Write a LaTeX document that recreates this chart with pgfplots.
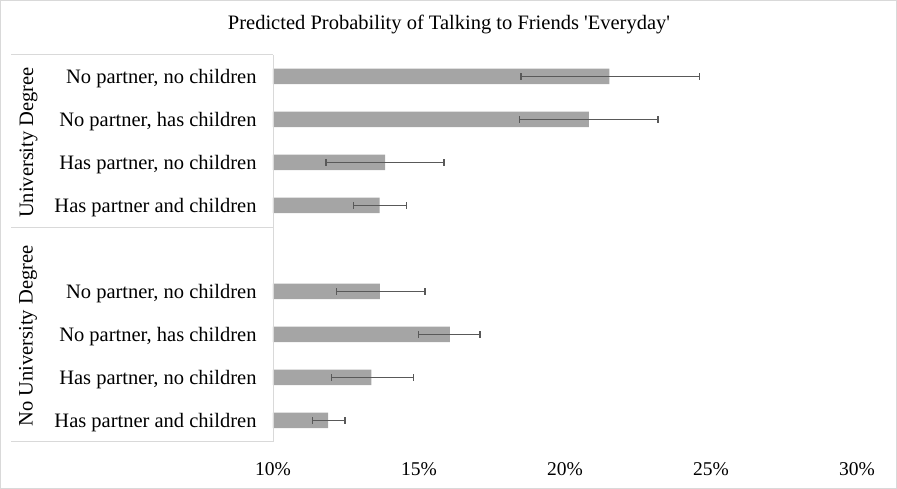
\documentclass[border=0pt]{standalone}
\usepackage{pgfplots}
\pgfplotsset{compat=1.18}
\usepackage{fontspec}
\setmainfont{Liberation Serif}
\definecolor{barfill}{HTML}{A5A5A5}
\definecolor{errcol}{HTML}{595959}
\definecolor{linecol}{HTML}{D9D9D9}
\newcommand{\lab}{\fontsize{20.5}{24}\selectfont}
\begin{document}
\begin{tikzpicture}[x=1pt,y=1pt]
\path[use as bounding box] (0,0) rectangle (897,489);
\draw[linecol, line width=0.75pt] (0.5,0.5) rectangle (896.5,488.5);
\begin{axis}[
  at={(273pt,47pt)}, anchor=south west,
  scale only axis, width=584pt, height=387pt,
  xmin=10, xmax=30, ymin=-0.5, ymax=8.5,
  xbar, bar width=15.5pt,
  axis line style={draw=none},
  tick style={draw=none},
  xtick={10,15,20,25,30},
  xticklabels={10\%,15\%,20\%,25\%,30\%},
  xticklabel style={anchor=base, yshift=-34pt, inner sep=0pt,
    font=\fontsize{19.5}{22}\selectfont},
  ytick={0,1,2,3,5,6,7,8},
  yticklabels={Has partner and children,{Has partner, no children},
    {No partner, has children},{No partner, no children},
    Has partner and children,{Has partner, no children},
    {No partner, has children},{No partner, no children}},
  yticklabel style={anchor=base east, xshift=-12pt, yshift=-6.8pt,
    inner sep=0pt, font=\lab},
]
\addplot[fill=barfill, draw=none,
  error bars/.cd, x dir=both, x explicit,
  error mark=|,
  error bar style={draw=errcol, line width=1.3pt},
  error mark options={draw=errcol, mark size=3.3pt, line width=1.3pt}]
coordinates {
  (11.89,0) += (0.58,0) -= (0.54,0)
  (13.37,1) += (1.43,0) -= (1.37,0)
  (16.06,2) += (1.03,0) -= (1.07,0)
  (13.66,3) += (1.55,0) -= (1.48,0)
  (13.65,5) += (0.92,0) -= (0.89,0)
  (13.84,6) += (2.02,0) -= (2.02,0)
  (20.82,7) += (2.36,0) -= (2.39,0)
  (21.52,8) += (3.08,0) -= (3.03,0)
};
\end{axis}
% category box lines
\draw[linecol, line width=1pt] (11,434) -- (273,434);
\draw[linecol, line width=1pt] (11,261) -- (273,261);
\draw[linecol, line width=1pt] (11,47) -- (273,47);
\draw[linecol, line width=1pt] (273,47) -- (273,434);
\node[rotate=90, anchor=base, inner sep=0pt, font=\lab] at (33,346.5) {University Degree};
\node[rotate=90, anchor=base, inner sep=0pt, font=\lab] at (32.5,153) {No University Degree};
\node[anchor=base, inner sep=0pt, font=\lab] at (449,459.7)
  {Predicted Probability of Talking to Friends \textquotesingle Everyday\textquotesingle};
\end{tikzpicture}
\end{document}
